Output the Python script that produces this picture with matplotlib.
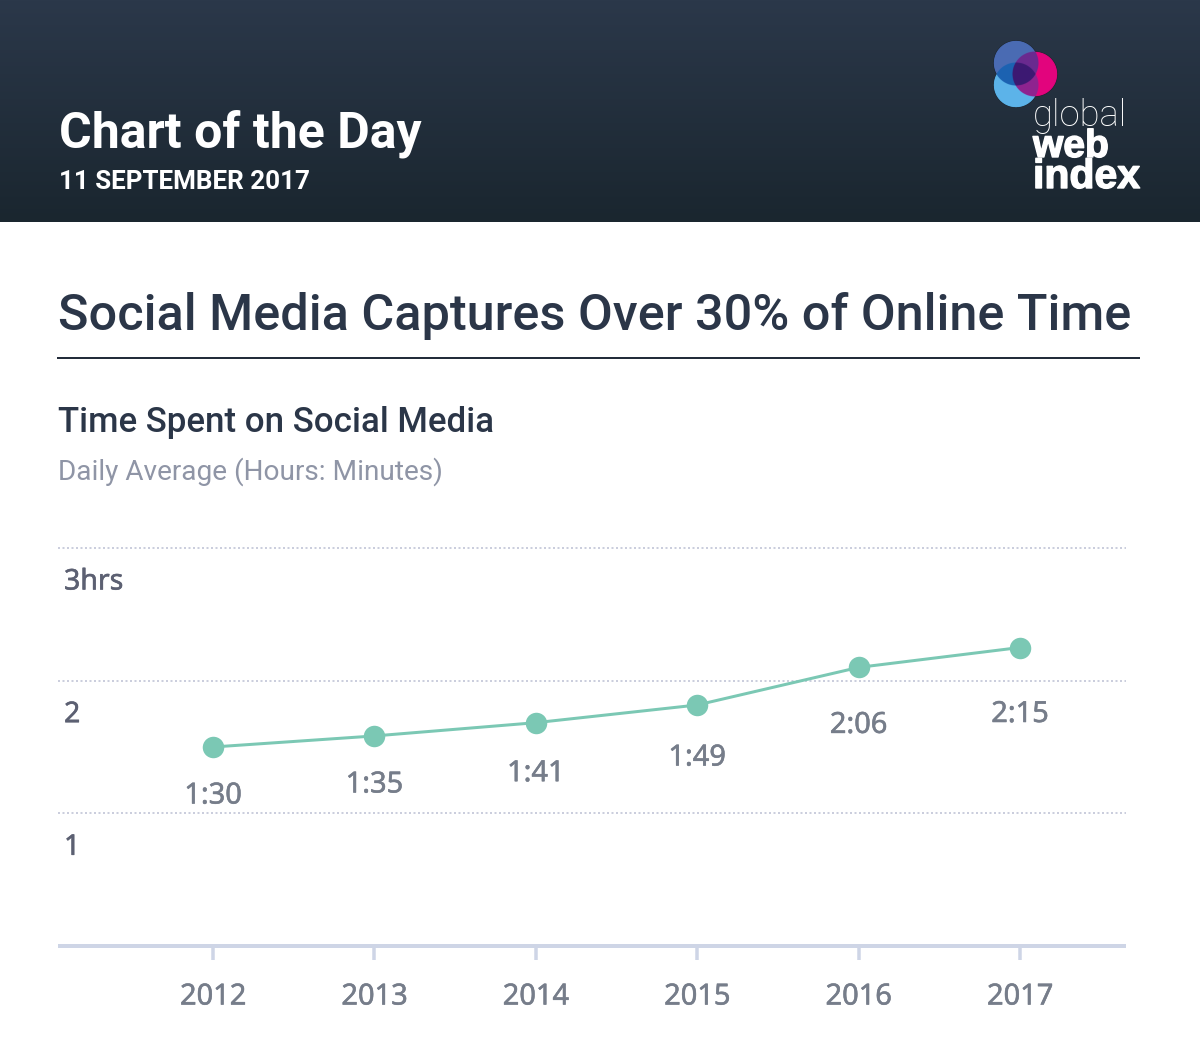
import numpy as np
import matplotlib
matplotlib.use('Agg')
import matplotlib.pyplot as plt
import matplotlib.patheffects as pe

plt.rcParams['font.family'] = ['Noto Sans', 'DejaVu Sans']

W, H = 1200, 1056

# the data
years = [2012, 2013, 2014, 2015, 2016, 2017]
hours = [1.5, 1 + 35 / 60, 1 + 41 / 60, 1 + 49 / 60, 2.1, 2.25]
time_labels = ['1:30', '1:35', '1:41', '1:49', '2:06', '2:15']
grid_values = [1, 2, 3]
grid_labels = ['1', '2', '3hrs']

# how far under each point its label sits, in pixels
label_drop = [49, 49, 51, 53, 58, 67]

TEAL = '#7bc8b4'
DARK = '#2b3648'
GREY = '#767d8a'
AXIS = '#ced5e6'


def px(v):
    return v * 72 / 100


fig = plt.figure(figsize=(12, 10.56), dpi=100, facecolor='white')

# whole figure layer in pixel coordinates, for the header
bg = fig.add_axes([0, 0, 1, 1])
bg.axis('off')

shade = np.linspace(0, 1, 222)[:, None, None]
top = np.array([0x2b, 0x38, 0x4a]) / 255
bottom = np.array([0x1a, 0x26, 0x2f]) / 255
bg.imshow(top * (1 - shade) + bottom * shade, extent=[0, W, 222, 0], aspect='auto', zorder=1)

# logo circles, coloured by which of them cover a pixel
gx, gy = np.meshgrid(np.linspace(985, 1065, 480), np.linspace(35, 115, 480))
r = 22.5
a = (gx - 1016) ** 2 + (gy - 63) ** 2 < r ** 2
b = (gx - 1016) ** 2 + (gy - 85) ** 2 < r ** 2
c = (gx - 1035) ** 2 + (gy - 74) ** 2 < r ** 2
logo = np.zeros(gx.shape + (4,))
logo[a] = matplotlib.colors.to_rgba('#4a6cb4')
logo[b] = matplotlib.colors.to_rgba('#5cb4ea')
logo[a & b] = matplotlib.colors.to_rgba('#1c62b2')
logo[c] = matplotlib.colors.to_rgba('#e2047e')
logo[a & c] = matplotlib.colors.to_rgba('#6a2a90')
logo[b & c] = matplotlib.colors.to_rgba('#8e2490')
logo[a & b & c] = matplotlib.colors.to_rgba('#3c1a72')
bg.imshow(logo, extent=[985, 1065, 115, 35], aspect='auto', zorder=2, interpolation='antialiased')
bg.set_xlim(0, W)
bg.set_ylim(H, 0)

heavy = [pe.withStroke(linewidth=1, foreground='white')]
bg.text(1033, 126, 'global', color='white', fontsize=px(36.5), fontweight='light', family='Roboto', zorder=3)
bg.text(1033, 157, 'web', color='white', fontsize=px(39), fontweight='bold', family='Liberation Sans',
        zorder=3, path_effects=heavy)
bg.text(1033, 188, 'index', color='white', fontsize=px(41), fontweight='bold', family='Liberation Sans',
        zorder=3, path_effects=heavy)

bg.text(59, 147, 'Chart of the Day', color='white', fontsize=px(50), fontweight='bold', family='Roboto', zorder=3)
bg.text(59, 189, '11 SEPTEMBER 2017', color='white', fontsize=px(26), fontweight='bold', family='Roboto', zorder=3)
bg.text(58, 330, 'Social Media Captures Over 30% of Online Time', color=DARK, fontsize=px(50.4),
        fontweight='medium', family='Roboto', zorder=3)
bg.plot([58, 1139], [357.5, 357.5], color='#232c3a', lw=px(2), zorder=3)
bg.text(58, 432, 'Time Spent on Social Media', color=DARK, fontsize=px(34.9), fontweight='medium',
        family='Roboto', zorder=3)
bg.text(58, 480, 'Daily Average (Hours: Minutes)', color='#8f95a6', fontsize=px(28), family='Roboto', zorder=3)

# chart area: left 58, right 1126, bottom at 946, 3hrs at 548
ax = fig.add_axes([58 / W, 1 - 1040 / H, (1126 - 58) / W, (1040 - 548) / H])
ax.patch.set_alpha(0)
ax.set_xlim(2012 - 155 / 161.4, 2017 + 106 / 161.4)
ax.set_ylim(-94 / 132.67, 3)
for s in ax.spines.values():
    s.set_visible(False)
ax.set_xticks([])
ax.set_yticks([])

# Noto Sans has no medium cut here, so thicken the labels a little
def thick(colour):
    return [pe.withStroke(linewidth=0.4, foreground=colour)]


for g, lab in zip(grid_values, grid_labels):
    ax.axhline(g, color='#cbcedd', lw=px(2), linestyle=(0, (1, 1.25)), zorder=1, clip_on=False)
    ax.annotate(lab, (0, g), xycoords=ax.get_yaxis_transform(), xytext=(px(6), -px(34)),
                textcoords='offset points', color='#5c6072', fontsize=px(28.5),
                ha='left', va='center', path_effects=thick('#5c6072'))

ax.axhline(0, color=AXIS, lw=px(4), zorder=2, solid_capstyle='round')
for year in years:
    ax.plot([year, year], [0, -14 / 132.67], color=AXIS, lw=px(3.5), zorder=2, solid_capstyle='butt')
    ax.annotate(str(year), (year, 0), xytext=(0, -px(51)), textcoords='offset points', color=GREY,
                fontsize=px(29), ha='center', va='center', path_effects=thick(GREY))

ax.plot(years, hours, color=TEAL, lw=px(3), marker='o', markersize=px(21.5), markeredgewidth=0,
        zorder=3, clip_on=False)
for year, h, lab, drop in zip(years, hours, time_labels, label_drop):
    ax.annotate(lab, (year, h), xytext=(0, -px(drop)), textcoords='offset points', color=GREY,
                fontsize=px(29), ha='center', va='center', path_effects=thick(GREY))

fig.savefig('out.png', dpi=100)
